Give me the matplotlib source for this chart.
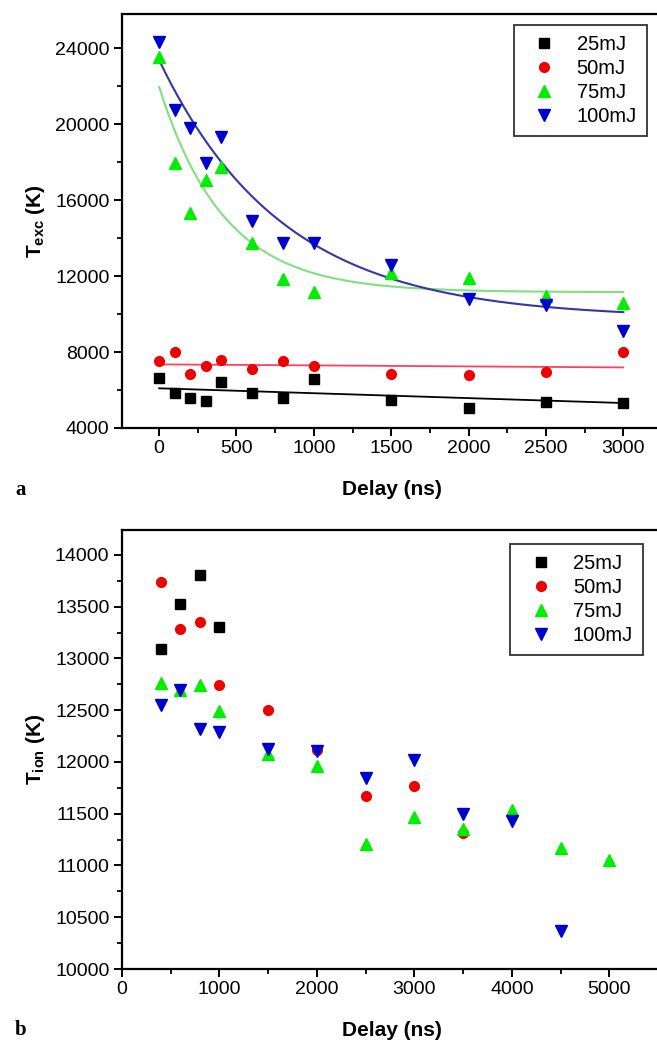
import numpy as np
import matplotlib
matplotlib.use("Agg")
import matplotlib.pyplot as plt
from matplotlib.ticker import MultipleLocator

plt.rcParams['font.family'] = ['Liberation Sans', 'DejaVu Sans']
plt.rcParams['mathtext.fontset'] = 'custom'
plt.rcParams['mathtext.rm'] = 'Liberation Sans'
plt.rcParams['mathtext.bf'] = 'Liberation Sans:bold'

labels = ['25mJ', '50mJ', '75mJ', '100mJ']

# ---- panel a: excitation temperature ----
delay_a = [0, 100, 200, 300, 400, 600, 800, 1000, 1500, 2000, 2500, 3000]
texc_25 = [6620, 5860, 5560, 5420, 6420, 5840, 5560, 6600, 5500, 5070, 5390, 5340]
texc_50 = [7530, 7980, 6860, 7280, 7600, 7130, 7510, 7280, 6830, 6810, 6970, 8000]
texc_75 = [23540, 17930, 15330, 17050, 17750, 13750, 11820, 11180, 12140, 11890, 10950, 10560]
texc_100 = [24330, 20740, 19800, 17930, 19330, 14900, 13750, 13750, 12580, 10790, 10470, 9100]

# fit parameters (exponential decay y0 + A*exp(-x/t), linear for low energies)
fit_100 = (9780, 13590, 800)
fit_75 = (11150, 10810, 420)
lin_50 = (7350, 7190)
lin_25 = (6090, 5315)

# ---- panel b: ionic temperature ----
delay_b25 = [400, 600, 800, 1000]
tion_25 = [13093, 13527, 13804, 13302]
delay_b50 = [400, 600, 800, 1000, 1500, 2000, 2500, 3000, 3500]
tion_50 = [13739, 13283, 13350, 12740, 12504, 12118, 11667, 11770, 11314]
delay_b75 = [400, 600, 800, 1000, 1500, 2000, 2500, 3000, 3500, 4000, 4500, 5000]
tion_75 = [12767, 12697, 12745, 12488, 12079, 11963, 11207, 11464, 11355, 11539, 11169, 11056]
delay_b100 = [400, 600, 800, 1000, 1500, 2000, 2500, 3000, 3500, 4000, 4500]
tion_100 = [12552, 12690, 12318, 12288, 12127, 12101, 11845, 12021, 11497, 11426, 10364]

W, H = 657, 1047
fig = plt.figure(figsize=(W / 100, H / 100), dpi=100)

def frac_box(x0, y0, x1, y1):
    return [x0 / W, 1 - y1 / H, (x1 - x0) / W, (y1 - y0) / H]

ax1 = fig.add_axes(frac_box(122, 14, 662, 428))
ax2 = fig.add_axes(frac_box(122, 530, 662, 969))

mk = dict(
    sq=dict(marker='s', color='black', ms=6.5),
    ci=dict(marker='o', color='#ee0000', ms=7),
    up=dict(marker='^', color='#00ee00', ms=8),
    dn=dict(marker='v', color='#0000cc', ms=8),
)

# panel a
xs = np.linspace(0, 3000, 300)
ax1.plot(xs, lin_25[0] + (lin_25[1] - lin_25[0]) * xs / 3000, color='black', lw=1.3)
ax1.plot(xs, lin_50[0] + (lin_50[1] - lin_50[0]) * xs / 3000, color='#ff4060', lw=1.3)
ax1.plot(xs, fit_75[0] + fit_75[1] * np.exp(-xs / fit_75[2]), color='#80e080', lw=1.5)
ax1.plot(xs, fit_100[0] + fit_100[1] * np.exp(-xs / fit_100[2]), color='#3535a5', lw=1.5)

ax1.plot(delay_a, texc_25, ls='none', label=labels[0], **mk['sq'])
ax1.plot(delay_a, texc_50, ls='none', label=labels[1], **mk['ci'])
ax1.plot(delay_a, texc_75, ls='none', label=labels[2], **mk['up'])
ax1.plot(delay_a, texc_100, ls='none', label=labels[3], **mk['dn'])

ax1.set_xlim(-240, 3250)
ax1.set_ylim(4000, 25800)
ax1.xaxis.set_major_locator(MultipleLocator(500))
ax1.xaxis.set_minor_locator(MultipleLocator(250))
ax1.yaxis.set_major_locator(MultipleLocator(4000))
ax1.yaxis.set_minor_locator(MultipleLocator(2000))

# panel b
ax2.plot(delay_b25, tion_25, ls='none', label=labels[0], **mk['sq'])
ax2.plot(delay_b50, tion_50, ls='none', label=labels[1], **mk['ci'])
ax2.plot(delay_b75, tion_75, ls='none', label=labels[2], **mk['up'])
ax2.plot(delay_b100, tion_100, ls='none', label=labels[3], **mk['dn'])

ax2.set_xlim(0, 5540)
ax2.set_ylim(10000, 14240)
ax2.xaxis.set_major_locator(MultipleLocator(1000))
ax2.xaxis.set_minor_locator(MultipleLocator(500))
ax2.yaxis.set_major_locator(MultipleLocator(500))
ax2.yaxis.set_minor_locator(MultipleLocator(250))

anchors = {ax1: (0.972, 0.973), ax2: (0.965, 0.968)}
for ax in (ax1, ax2):
    for s in ['left', 'bottom', 'top', 'right']:
        ax.spines[s].set_linewidth(1.6)
    ax.tick_params(which='major', direction='out', length=6, width=1.4, labelsize=14, pad=3,
                   top=False, right=False)
    ax.tick_params(which='minor', direction='out', length=3.5, width=1.3, top=False, right=False)
    ax.set_xlabel('Delay (ns)', fontsize=15, fontweight='bold', labelpad=16)
    leg = ax.legend(loc='upper right', fontsize=14.5, frameon=True, fancybox=False,
                    edgecolor='black', handletextpad=0.6, labelspacing=0.25,
                    borderpad=0.5, handlelength=2.0, borderaxespad=0,
                    bbox_to_anchor=anchors[ax])
    leg.get_frame().set_linewidth(1.3)

ax1.set_ylabel(r'$\mathbf{T_{exc}}$ (K)', fontsize=15, fontweight='bold', labelpad=6)
ax2.set_ylabel(r'$\mathbf{T_{ion}}$ (K)', fontsize=15, fontweight='bold', labelpad=6)

fig.text(15 / W, 1 - 490 / H, 'a', fontsize=15, fontweight='bold', family='Liberation Serif',
         va='center', ha='left')
fig.text(15 / W, 1 - 1030 / H, 'b', fontsize=15, fontweight='bold', family='Liberation Serif',
         va='center', ha='left')

fig.savefig('out.png', dpi=100)
